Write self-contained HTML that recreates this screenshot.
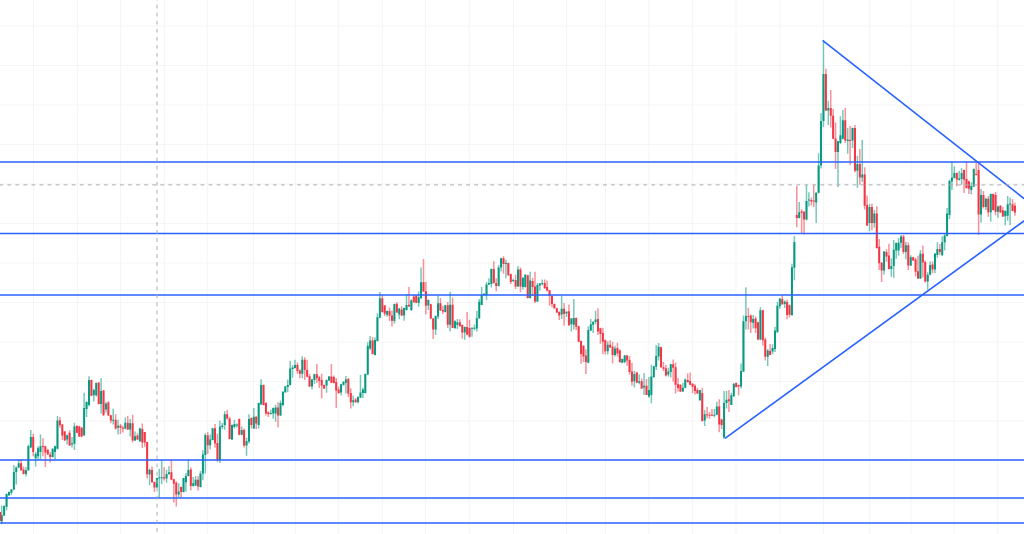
<!DOCTYPE html><html><head><meta charset="utf-8"><style>html,body{margin:0;padding:0;background:#fff;overflow:hidden}svg{display:block}</style></head><body>
<svg width="1024" height="534" viewBox="0 0 1024 534">
<rect width="1024" height="534" fill="#fff"/>
<path d="M33.5 0V534 M77.4 0V534 M120.5 0V534 M164.4 0V534 M207.3 0V534 M253.5 0V534 M295.4 0V534 M338.4 0V534 M382.4 0V534 M425.4 0V534 M469.3 0V534 M513.5 0V534 M566.6 0V534 M605.5 0V534 M648.8 0V534 M692.4 0V534 M736 0V534 M779.9 0V534 M823.6 0V534 M869.6 0V534 M911 0V534 M954.1 0V534 M997.6 0V534 M0 26.0H1024 M0 65.5H1024 M0 105.0H1024 M0 144.5H1024 M0 184.0H1024 M0 223.5H1024 M0 263.0H1024 M0 302.5H1024 M0 342.0H1024 M0 381.5H1024 M0 421.0H1024 M0 460.5H1024 M0 500.0H1024" stroke="#f5f5f5" stroke-width="1" fill="none"/>
<path d="M1.72 505.5V524.3M4.14 505.5V515.9M6.57 493.4V510.2M8.99 491.5V495.9M11.42 489.0V495.2M13.84 465.1V490.2M16.26 466.4V484.6M18.69 458.9V468.3M25.96 467.0V476.4M28.38 444.4V470.8M30.81 430.0V448.2M35.66 452.0V466.4M38.08 446.3V459.5M40.50 434.4V459.5M52.62 448.2V457.6M55.05 445.4V460.1M57.47 416.0V449.4M67.17 434.6V444.6M72.02 437.0V447.5M74.44 422.7V450.0M84.14 392.7V435.9M86.56 401.2V417.1M88.98 376.3V406.6M93.83 388.8V401.6M96.26 382.5V396.5M101.10 378.2V413.4M105.95 402.0V412.6M113.22 408.8V424.4M118.07 419.8V434.5M125.34 417.3V429.5M130.19 419.0V436.6M135.04 431.6V440.9M139.89 427.8V442.1M149.58 468.6V485.3M156.86 477.7V487.8M159.28 468.8V497.5M161.70 460.0V484.0M166.55 469.7V482.7M168.98 466.3V474.7M178.67 483.3V497.2M183.52 477.7V492.4M185.94 473.0V491.6M188.37 459.6V476.6M193.22 477.1V486.4M195.64 476.1V485.9M200.49 471.0V487.4M202.91 450.3V480.2M205.34 433.3V473.6M210.18 434.4V449.3M212.61 427.7V440.5M219.88 420.4V463.0M222.30 423.0V429.2M224.73 411.2V429.7M232.00 424.4V439.9M234.42 419.8V428.5M236.85 423.4V427.5M241.70 426.5V435.2M246.54 437.8V455.8M248.97 414.3V443.5M253.82 408.1V429.1M258.66 402.4V428.5M261.09 379.3V405.0M270.78 409.4V414.6M273.21 407.4V418.7M275.63 404.8V421.8M280.48 400.5V416.1M282.90 391.2V406.3M285.33 386.0V392.7M287.75 379.4V392.2M290.18 360.8V385.5M292.60 364.9V377.8M295.02 359.8V368.5M302.30 356.2V378.3M311.99 378.8V389.6M314.42 373.7V384.0M326.54 379.4V392.7M328.96 376.0V380.9M341.08 383.7V395.5M343.50 381.1V385.7M345.93 376.0V393.5M353.20 395.5V406.3M358.05 396.6V403.3M360.47 374.9V398.1M362.90 387.8V398.1M365.32 373.6V393.5M367.74 342.2V375.2M370.17 336.0V349.9M375.02 337.4V355.6M377.44 313.2V341.5M379.86 292.1V318.3M387.14 310.6V316.8M394.41 303.4V323.5M399.26 308.0V319.2M404.10 307.4V320.7M406.53 294.1V310.4M411.38 299.6V311.0M418.65 291.6V306.8M421.07 267.4V298.8M428.34 299.6V310.0M435.62 315.5V335.0M438.04 295.4V319.1M445.31 304.7V312.4M450.16 291.8V331.5M455.01 320.2V328.9M457.43 319.1V329.0M464.70 326.4V339.8M471.98 327.4V336.7M474.40 324.4V330.5M476.82 311.0V331.6M479.25 298.9V318.7M481.67 287.1V305.3M484.10 293.3V295.8M486.52 281.9V299.9M488.94 278.3V285.0M491.37 268.5V287.6M498.64 264.9V286.6M501.06 257.7V271.6M505.91 259.8V278.3M513.18 278.8V281.9M518.03 266.0V287.1M522.88 277.3V289.6M525.30 274.2V287.6M530.15 271.7V298.5M537.42 283.0V302.1M539.85 283.0V290.7M542.27 279.4V285.6M561.66 295.8V319.1M566.51 311.3V317.0M571.36 318.0V331.4M573.78 299.0V329.4M588.33 326.3V363.2M590.75 319.1V330.9M593.18 321.1V333.0M595.60 310.8V324.2M607.72 341.2V354.4M614.99 345.7V356.5M622.26 358.5V363.2M624.69 354.9V363.2M634.38 370.9V387.4M639.23 374.5V384.3M644.08 373.0V395.0M648.93 377.1V397.7M651.35 364.7V403.3M653.78 365.7V378.1M656.20 345.1V369.9M658.62 343.1V360.6M668.32 367.8V376.6M670.74 363.7V377.6M682.86 382.7V391.9M685.29 378.5V388.3M699.83 389.9V400.8M704.68 410.1V426.0M714.38 409.1V417.3M716.80 401.8V415.2M724.07 391.0V438.9M726.50 391.0V408.5M731.34 392.7V405.0M733.77 383.0V396.7M741.04 363.4V388.6M743.46 315.5V372.1M745.89 287.2V329.4M753.16 314.9V328.4M760.43 307.3V340.2M767.70 348.9V366.0M772.55 344.3V354.2M774.98 326.8V352.1M777.40 302.1V333.0M779.82 298.0V308.8M784.67 300.5V308.0M791.94 263.7V315.6M794.37 236.0V280.2M799.22 202.0V218.5M806.49 185.0V220.5M808.91 192.2V206.6M816.18 192.2V223.1M818.61 153.2V193.5M821.03 113.2V168.6M823.46 40.5V127.1M828.30 100.8V125.0M838.00 140.8V187.0M840.42 116.2V144.1M842.85 110.0V139.4M847.70 128.0V153.8M852.54 127.5V148.1M857.39 155.8V187.8M862.24 140.0V182.1M869.51 203.8V231.3M874.36 210.1V227.7M884.06 251.0V274.6M891.33 258.2V276.7M893.75 240.0V277.7M896.18 242.6V258.7M898.60 238.0V255.6M901.02 235.0V247.9M905.87 241.7V259.2M910.72 255.2V266.0M920.42 250.1V278.9M927.69 272.2V289.7M930.11 261.4V275.3M934.96 253.0V273.3M937.38 242.2V257.8M942.23 236.2V255.7M944.66 234.0V250.5M947.08 207.9V236.6M949.50 179.6V219.1M951.93 161.5V189.9M954.35 166.2V178.5M959.20 170.8V180.6M961.62 168.2V184.7M971.32 182.3V194.6M973.74 168.4V186.9M981.02 189.0V222.7M985.86 197.7V210.0M990.71 193.6V221.6M997.98 205.7V217.7M1005.26 210.2V225.2M1007.68 196.0V220.7M1010.10 197.5V225.2" stroke="#089981" stroke-width="1.5" stroke-opacity="0.55" fill="none"/>
<path d="M0.20 511.9V521.0M21.11 459.5V470.8M23.54 466.4V474.5M33.23 433.8V456.3M42.93 438.2V456.3M45.35 445.7V467.0M47.78 448.8V455.1M50.20 452.0V462.6M59.90 417.1V427.7M62.32 424.0V440.0M64.74 430.9V440.8M69.59 430.2V445.9M76.86 425.2V433.2M79.29 425.8V437.0M81.71 427.1V437.0M91.41 379.4V396.3M98.68 382.2V404.5M103.53 390.1V415.8M108.38 401.2V416.0M110.80 414.7V423.2M115.65 414.3V429.5M120.50 424.0V434.1M122.92 425.7V432.4M127.77 416.0V429.9M132.62 414.7V442.5M137.46 433.3V440.0M142.31 423.6V448.0M144.74 432.0V446.7M147.16 441.7V478.5M152.01 466.5V482.7M154.43 481.5V492.0M164.13 467.2V480.6M171.40 460.0V480.2M173.82 478.7V502.4M176.25 481.3V506.5M181.10 486.4V497.7M190.79 467.4V490.5M198.06 476.1V490.5M207.76 432.3V453.9M215.03 424.1V447.7M217.46 433.8V461.8M227.15 410.1V419.4M229.58 416.8V439.5M239.27 418.4V435.2M244.12 428.5V447.6M251.39 417.4V428.5M256.24 416.2V429.1M263.51 384.4V405.5M265.94 402.2V415.6M268.36 411.2V417.1M278.06 402.2V427.4M297.45 362.4V373.7M299.87 369.6V378.3M304.72 357.2V379.9M307.14 359.8V377.3M309.57 373.7V387.1M316.84 363.9V383.0M319.26 375.7V388.1M321.69 373.7V398.4M324.11 384.5V389.1M331.38 363.9V383.2M333.81 375.4V383.5M336.23 378.0V407.9M338.66 386.8V394.0M348.35 378.0V397.1M350.78 388.3V408.4M355.62 398.1V402.7M372.59 336.9V354.6M382.29 295.1V312.7M384.71 304.9V316.3M389.56 307.5V320.9M391.98 310.4V326.6M396.83 302.2V313.0M401.68 306.3V316.1M408.95 286.9V307.0M413.80 295.0V302.7M416.22 295.0V303.2M423.50 259.1V292.1M425.92 282.1V314.6M430.77 303.7V319.1M433.19 318.1V339.0M440.46 298.0V310.9M442.89 305.7V314.0M447.74 302.1V327.9M452.58 297.5V326.3M459.86 319.2V326.9M462.28 324.4V338.8M467.13 312.0V335.2M469.55 319.7V337.7M493.79 261.3V283.5M496.22 278.3V291.2M503.49 256.2V273.7M508.34 262.4V275.7M510.76 273.7V284.0M515.61 274.7V289.1M520.46 267.5V292.2M527.73 274.8V298.5M532.58 277.9V295.9M535.00 271.7V303.1M544.70 279.4V288.7M547.12 280.4V291.3M549.54 289.7V305.7M551.97 295.4V307.2M554.39 303.6V308.8M556.82 307.7V312.9M559.24 311.3V320.0M564.09 303.1V325.7M568.94 304.6V325.7M576.21 317.5V329.9M578.63 325.7V342.2M581.06 340.5V363.7M583.48 345.3V362.1M585.90 349.3V374.0M598.02 308.2V335.0M600.45 327.8V343.8M602.87 327.8V354.1M605.30 339.6V354.4M610.14 340.2V347.9M612.57 342.1V363.2M617.42 342.7V356.5M619.84 349.3V362.7M627.11 354.9V365.7M629.54 356.0V374.5M631.96 362.7V385.8M636.81 371.9V383.3M641.66 378.6V388.9M646.50 379.1V395.0M661.05 346.7V367.8M663.47 362.1V370.9M665.90 364.7V376.6M673.17 359.6V381.7M675.59 362.6V393.5M678.02 378.0V391.5M680.44 384.3V392.0M687.71 373.4V382.7M690.14 372.4V385.2M692.56 383.2V393.0M694.98 384.2V394.5M697.41 387.8V394.0M702.26 387.8V421.4M707.10 407.0V418.3M709.53 412.1V418.8M711.95 409.1V416.3M719.22 399.3V432.2M721.65 418.8V429.1M728.92 390.0V412.1M736.19 382.4V387.6M738.62 384.5V395.3M748.31 307.8V329.4M750.74 314.4V333.0M755.58 316.5V333.0M758.01 321.7V340.2M762.86 309.8V345.8M765.28 337.6V360.4M770.13 343.9V355.2M782.25 295.0V304.1M787.10 299.7V319.2M789.52 304.6V317.5M796.79 186.0V227.2M801.64 209.2V233.9M804.06 211.3V234.4M811.34 197.4V205.6M813.76 185.0V207.1M825.88 68.8V111.1M830.73 90.0V127.6M833.15 109.1V139.3M835.58 122.4V169.1M845.27 108.0V143.0M850.12 126.0V165.0M854.97 124.9V172.4M859.82 149.0V184.7M864.66 167.2V209.4M867.09 195.5V226.1M871.94 203.8V230.2M876.78 206.3V248.8M879.21 239.1V270.0M881.63 262.3V281.9M886.48 249.3V261.8M888.90 243.8V269.5M903.45 235.0V254.1M908.30 242.4V270.0M913.14 256.8V260.9M915.57 257.8V276.3M917.99 255.7V278.9M922.84 245.4V277.4M925.26 260.4V282.5M932.54 261.4V273.3M939.81 243.9V254.7M956.78 172.4V186.3M964.05 169.4V193.0M966.47 161.0V188.5M968.90 180.7V194.1M976.17 162.7V175.6M978.59 162.7V235.0M983.44 191.0V208.5M988.29 196.1V216.7M993.14 193.6V210.4M995.56 192.1V215.2M1000.41 205.0V212.8M1002.83 206.9V217.0M1012.53 199.0V211.3M1014.95 202.7V215.8" stroke="#f23645" stroke-width="1.5" stroke-opacity="0.55" fill="none"/>
<path d="M0.72 515.2h2.0V521.6h-2.0ZM3.14 506.1h2.0V515.6h-2.0ZM5.57 494.0h2.0V506.8h-2.0ZM7.99 492.1h2.0V495.2h-2.0ZM10.42 489.6h2.0V492.7h-2.0ZM12.84 472.0h2.0V489.6h-2.0ZM15.26 467.6h2.0V472.0h-2.0ZM17.69 463.2h2.0V467.6h-2.0ZM24.96 470.2h2.0V473.9h-2.0ZM27.38 446.3h2.0V470.2h-2.0ZM29.81 436.9h2.0V447.6h-2.0ZM34.66 453.8h2.0V458.2h-2.0ZM37.08 448.2h2.0V456.3h-2.0ZM39.50 446.3h2.0V452.0h-2.0ZM51.62 448.8h2.0V457.0h-2.0ZM54.05 446.3h2.0V452.0h-2.0ZM56.47 420.6h2.0V448.8h-2.0ZM66.17 435.2h2.0V439.5h-2.0ZM71.02 443.3h2.0V444.6h-2.0ZM73.44 426.5h2.0V443.8h-2.0ZM83.14 408.0h2.0V435.3h-2.0ZM85.56 402.0h2.0V408.9h-2.0ZM87.98 380.0h2.0V405.1h-2.0ZM92.83 390.1h2.0V395.3h-2.0ZM95.26 383.1h2.0V395.3h-2.0ZM100.10 391.1h2.0V403.9h-2.0ZM104.95 403.7h2.0V409.6h-2.0ZM112.22 419.7h2.0V420.7h-2.0ZM117.07 425.7h2.0V427.8h-2.0ZM124.34 422.7h2.0V428.6h-2.0ZM129.19 423.2h2.0V429.5h-2.0ZM134.04 436.2h2.0V440.4h-2.0ZM138.89 428.6h2.0V441.3h-2.0ZM148.58 469.7h2.0V474.5h-2.0ZM155.86 478.1h2.0V487.4h-2.0ZM158.28 477.6h2.0V478.6h-2.0ZM160.70 477.2h2.0V478.2h-2.0ZM165.55 473.9h2.0V478.5h-2.0ZM167.98 472.2h2.0V473.9h-2.0ZM177.67 491.6h2.0V494.6h-2.0ZM182.52 478.1h2.0V492.0h-2.0ZM184.94 476.1h2.0V482.3h-2.0ZM187.37 469.9h2.0V476.1h-2.0ZM192.22 483.3h2.0V485.9h-2.0ZM194.64 479.7h2.0V485.4h-2.0ZM199.49 473.5h2.0V486.9h-2.0ZM201.91 454.4h2.0V473.5h-2.0ZM204.34 434.9h2.0V454.9h-2.0ZM209.18 439.5h2.0V445.2h-2.0ZM211.61 428.2h2.0V440.0h-2.0ZM218.88 426.6h2.0V460.0h-2.0ZM221.30 425.6h2.0V427.1h-2.0ZM223.73 414.3h2.0V425.1h-2.0ZM231.00 424.9h2.0V439.4h-2.0ZM233.42 424.1h2.0V427.0h-2.0ZM235.85 424.4h2.0V425.4h-2.0ZM240.70 430.1h2.0V434.7h-2.0ZM245.54 440.9h2.0V445.5h-2.0ZM247.97 418.9h2.0V441.4h-2.0ZM252.82 416.7h2.0V428.5h-2.0ZM257.66 403.0h2.0V425.0h-2.0ZM260.09 384.9h2.0V404.5h-2.0ZM269.78 413.0h2.0V414.1h-2.0ZM272.21 407.9h2.0V413.5h-2.0ZM274.63 407.4h2.0V413.5h-2.0ZM279.48 403.0h2.0V415.6h-2.0ZM281.90 391.7h2.0V405.0h-2.0ZM284.33 386.6h2.0V392.2h-2.0ZM286.75 385.0h2.0V387.1h-2.0ZM289.18 368.5h2.0V385.0h-2.0ZM291.60 367.5h2.0V369.1h-2.0ZM294.02 364.9h2.0V368.0h-2.0ZM301.30 359.8h2.0V373.7h-2.0ZM310.99 379.4h2.0V386.6h-2.0ZM313.42 374.2h2.0V379.9h-2.0ZM325.54 379.9h2.0V385.5h-2.0ZM327.96 376.5h2.0V380.4h-2.0ZM340.08 384.2h2.0V392.4h-2.0ZM342.50 382.1h2.0V384.7h-2.0ZM344.93 379.6h2.0V382.7h-2.0ZM352.20 400.2h2.0V402.2h-2.0ZM357.05 397.1h2.0V402.2h-2.0ZM359.47 392.4h2.0V397.6h-2.0ZM361.90 389.4h2.0V393.0h-2.0ZM364.32 374.1h2.0V393.0h-2.0ZM366.74 345.8h2.0V374.6h-2.0ZM369.17 340.5h2.0V348.4h-2.0ZM374.02 339.9h2.0V355.1h-2.0ZM376.44 317.3h2.0V341.0h-2.0ZM378.86 298.2h2.0V317.8h-2.0ZM386.14 311.1h2.0V314.7h-2.0ZM393.41 303.9h2.0V320.9h-2.0ZM398.26 308.6h2.0V314.6h-2.0ZM403.10 307.9h2.0V315.6h-2.0ZM405.53 304.9h2.0V310.0h-2.0ZM410.38 300.3h2.0V310.0h-2.0ZM417.65 297.2h2.0V302.9h-2.0ZM420.07 282.3h2.0V298.3h-2.0ZM427.34 300.1h2.0V305.5h-2.0ZM434.62 316.0h2.0V329.4h-2.0ZM437.04 303.2h2.0V316.6h-2.0ZM444.31 305.2h2.0V311.9h-2.0ZM449.16 304.7h2.0V324.8h-2.0ZM454.01 321.3h2.0V328.0h-2.0ZM456.43 322.2h2.0V324.9h-2.0ZM463.70 326.9h2.0V332.6h-2.0ZM470.98 327.7h2.0V328.7h-2.0ZM473.40 327.7h2.0V328.7h-2.0ZM475.82 318.2h2.0V328.5h-2.0ZM478.25 301.7h2.0V318.2h-2.0ZM480.67 295.0h2.0V305.0h-2.0ZM483.10 293.8h2.0V295.3h-2.0ZM485.52 284.5h2.0V295.3h-2.0ZM487.94 283.0h2.0V284.5h-2.0ZM490.37 269.1h2.0V284.0h-2.0ZM497.64 267.5h2.0V286.0h-2.0ZM500.06 258.2h2.0V267.5h-2.0ZM504.91 262.9h2.0V263.9h-2.0ZM512.18 279.9h2.0V280.9h-2.0ZM517.03 269.6h2.0V286.6h-2.0ZM521.88 277.8h2.0V287.1h-2.0ZM524.30 274.7h2.0V287.1h-2.0ZM529.15 280.4h2.0V298.0h-2.0ZM536.42 285.1h2.0V301.6h-2.0ZM538.85 283.5h2.0V285.6h-2.0ZM541.27 283.0h2.0V284.1h-2.0ZM560.66 308.8h2.0V314.4h-2.0ZM565.51 311.8h2.0V313.4h-2.0ZM570.36 318.5h2.0V324.2h-2.0ZM572.78 318.0h2.0V324.7h-2.0ZM587.33 329.9h2.0V362.7h-2.0ZM589.75 324.2h2.0V330.4h-2.0ZM592.18 322.1h2.0V324.7h-2.0ZM594.60 319.6h2.0V322.1h-2.0ZM606.72 344.8h2.0V351.3h-2.0ZM613.99 348.4h2.0V355.0h-2.0ZM621.26 359.1h2.0V362.7h-2.0ZM623.69 355.4h2.0V362.1h-2.0ZM633.38 374.0h2.0V381.2h-2.0ZM638.23 381.2h2.0V382.7h-2.0ZM643.08 385.8h2.0V387.4h-2.0ZM647.93 389.9h2.0V396.6h-2.0ZM650.35 376.5h2.0V395.1h-2.0ZM652.78 366.3h2.0V377.1h-2.0ZM655.20 356.0h2.0V366.8h-2.0ZM657.62 346.7h2.0V356.5h-2.0ZM667.32 371.4h2.0V374.5h-2.0ZM669.74 364.2h2.0V371.9h-2.0ZM681.86 387.8h2.0V391.4h-2.0ZM684.29 379.6h2.0V387.8h-2.0ZM698.83 390.0h2.0V400.3h-2.0ZM703.68 414.2h2.0V420.4h-2.0ZM713.38 414.7h2.0V415.7h-2.0ZM715.80 406.5h2.0V414.7h-2.0ZM723.07 402.9h2.0V437.4h-2.0ZM725.50 399.8h2.0V402.9h-2.0ZM730.34 395.3h2.0V405.0h-2.0ZM732.77 384.0h2.0V396.2h-2.0ZM740.04 371.1h2.0V386.6h-2.0ZM742.46 321.2h2.0V371.6h-2.0ZM744.89 316.0h2.0V321.2h-2.0ZM752.16 319.1h2.0V322.7h-2.0ZM759.43 310.3h2.0V339.6h-2.0ZM766.70 350.5h2.0V356.8h-2.0ZM771.55 347.9h2.0V351.6h-2.0ZM773.98 330.5h2.0V349.1h-2.0ZM776.40 305.7h2.0V331.9h-2.0ZM778.82 298.8h2.0V306.2h-2.0ZM783.67 301.5h2.0V304.1h-2.0ZM790.94 267.3h2.0V315.3h-2.0ZM793.37 242.1h2.0V267.8h-2.0ZM798.22 212.3h2.0V218.0h-2.0ZM805.49 201.0h2.0V219.5h-2.0ZM807.91 199.4h2.0V200.4h-2.0ZM815.18 192.7h2.0V202.5h-2.0ZM817.61 165.5h2.0V192.7h-2.0ZM820.03 120.9h2.0V165.5h-2.0ZM822.46 74.0h2.0V120.9h-2.0ZM827.30 108.0h2.0V110.6h-2.0ZM837.00 141.3h2.0V152.1h-2.0ZM839.42 135.3h2.0V143.0h-2.0ZM841.85 120.3h2.0V138.8h-2.0ZM846.70 139.4h2.0V140.9h-2.0ZM851.54 128.0h2.0V140.4h-2.0ZM856.39 164.1h2.0V170.8h-2.0ZM861.24 174.4h2.0V177.5h-2.0ZM868.51 207.1h2.0V223.0h-2.0ZM873.36 213.6h2.0V223.0h-2.0ZM883.06 251.5h2.0V270.5h-2.0ZM890.33 265.9h2.0V269.0h-2.0ZM892.75 249.8h2.0V265.9h-2.0ZM895.18 243.1h2.0V250.4h-2.0ZM897.60 242.7h2.0V250.4h-2.0ZM900.02 236.5h2.0V242.7h-2.0ZM904.87 245.3h2.0V252.1h-2.0ZM909.72 257.3h2.0V265.5h-2.0ZM919.42 253.7h2.0V278.4h-2.0ZM926.69 274.8h2.0V281.5h-2.0ZM929.11 265.0h2.0V274.8h-2.0ZM933.96 253.6h2.0V269.6h-2.0ZM936.38 248.9h2.0V255.0h-2.0ZM941.23 242.2h2.0V255.2h-2.0ZM943.66 235.5h2.0V242.2h-2.0ZM946.08 213.6h2.0V236.0h-2.0ZM948.50 181.1h2.0V215.0h-2.0ZM950.93 177.5h2.0V181.6h-2.0ZM953.35 172.9h2.0V178.0h-2.0ZM958.20 178.5h2.0V180.1h-2.0ZM960.62 172.9h2.0V179.1h-2.0ZM970.32 185.9h2.0V189.9h-2.0ZM972.74 168.9h2.0V186.4h-2.0ZM980.02 195.0h2.0V214.5h-2.0ZM984.86 198.7h2.0V207.0h-2.0ZM989.71 194.1h2.0V212.2h-2.0ZM996.98 206.5h2.0V211.7h-2.0ZM1004.26 211.0h2.0V216.2h-2.0ZM1006.68 204.2h2.0V215.8h-2.0ZM1009.10 203.4h2.0V204.4h-2.0Z" fill="#089981"/>
<path d="M-0.80 511.9h2.0V521.0h-2.0ZM20.11 463.2h2.0V470.2h-2.0ZM22.54 469.5h2.0V473.9h-2.0ZM32.23 436.9h2.0V452.0h-2.0ZM41.93 446.1h2.0V447.1h-2.0ZM44.35 446.3h2.0V452.6h-2.0ZM46.78 450.1h2.0V454.5h-2.0ZM49.20 454.5h2.0V457.0h-2.0ZM58.90 420.2h2.0V425.2h-2.0ZM61.32 424.6h2.0V435.6h-2.0ZM63.74 431.5h2.0V440.4h-2.0ZM68.59 432.7h2.0V445.4h-2.0ZM75.86 426.1h2.0V432.8h-2.0ZM78.29 426.5h2.0V436.6h-2.0ZM80.71 427.7h2.0V436.5h-2.0ZM90.41 380.0h2.0V395.7h-2.0ZM97.68 382.6h2.0V404.1h-2.0ZM102.53 390.6h2.0V415.2h-2.0ZM107.38 402.5h2.0V415.6h-2.0ZM109.80 415.2h2.0V420.6h-2.0ZM114.65 419.8h2.0V428.6h-2.0ZM119.50 425.7h2.0V427.8h-2.0ZM121.92 427.7h2.0V428.7h-2.0ZM126.77 422.7h2.0V429.5h-2.0ZM131.62 423.2h2.0V440.4h-2.0ZM136.46 435.4h2.0V439.6h-2.0ZM141.31 429.1h2.0V442.5h-2.0ZM143.74 432.0h2.0V442.5h-2.0ZM146.16 442.1h2.0V474.3h-2.0ZM151.01 469.9h2.0V482.3h-2.0ZM153.43 481.9h2.0V487.4h-2.0ZM163.13 477.3h2.0V478.5h-2.0ZM170.40 472.2h2.0V479.8h-2.0ZM172.82 479.2h2.0V483.8h-2.0ZM175.25 482.8h2.0V494.6h-2.0ZM180.10 486.9h2.0V492.0h-2.0ZM189.79 469.4h2.0V485.9h-2.0ZM197.06 479.7h2.0V486.4h-2.0ZM206.76 435.4h2.0V445.2h-2.0ZM214.03 428.2h2.0V443.6h-2.0ZM216.46 443.1h2.0V460.0h-2.0ZM226.15 414.3h2.0V418.4h-2.0ZM228.58 418.4h2.0V439.0h-2.0ZM238.27 418.9h2.0V434.7h-2.0ZM243.12 430.1h2.0V445.5h-2.0ZM250.39 417.9h2.0V425.0h-2.0ZM255.24 416.7h2.0V423.4h-2.0ZM262.51 384.9h2.0V405.0h-2.0ZM264.94 403.0h2.0V413.5h-2.0ZM267.36 412.2h2.0V414.3h-2.0ZM277.06 407.4h2.0V415.6h-2.0ZM296.45 364.9h2.0V371.1h-2.0ZM298.87 370.6h2.0V373.7h-2.0ZM303.72 359.8h2.0V370.1h-2.0ZM306.14 370.1h2.0V376.8h-2.0ZM308.57 376.3h2.0V386.6h-2.0ZM315.84 374.2h2.0V378.3h-2.0ZM318.26 377.3h2.0V380.9h-2.0ZM320.69 379.9h2.0V385.5h-2.0ZM323.11 385.0h2.0V388.6h-2.0ZM330.38 376.5h2.0V382.7h-2.0ZM332.81 377.0h2.0V383.0h-2.0ZM335.23 382.1h2.0V390.4h-2.0ZM337.66 389.4h2.0V393.0h-2.0ZM347.35 379.1h2.0V393.5h-2.0ZM349.78 393.0h2.0V402.2h-2.0ZM354.62 399.6h2.0V402.2h-2.0ZM371.59 340.5h2.0V354.1h-2.0ZM381.29 298.2h2.0V312.1h-2.0ZM383.71 305.4h2.0V313.7h-2.0ZM388.56 311.1h2.0V315.7h-2.0ZM390.98 315.6h2.0V320.7h-2.0ZM395.83 303.8h2.0V312.5h-2.0ZM400.68 309.4h2.0V315.6h-2.0ZM407.95 304.8h2.0V306.5h-2.0ZM412.80 296.7h2.0V302.2h-2.0ZM415.22 295.7h2.0V302.7h-2.0ZM422.50 282.3h2.0V291.6h-2.0ZM424.92 291.3h2.0V305.7h-2.0ZM429.77 304.2h2.0V318.6h-2.0ZM432.19 318.6h2.0V329.4h-2.0ZM439.46 303.2h2.0V310.4h-2.0ZM441.89 309.9h2.0V311.4h-2.0ZM446.74 305.2h2.0V324.8h-2.0ZM451.58 304.7h2.0V328.0h-2.0ZM458.86 322.2h2.0V325.9h-2.0ZM461.28 324.9h2.0V332.6h-2.0ZM466.13 326.9h2.0V334.6h-2.0ZM468.55 328.0h2.0V336.7h-2.0ZM492.79 269.1h2.0V283.0h-2.0ZM495.22 283.0h2.0V286.0h-2.0ZM502.49 258.2h2.0V263.9h-2.0ZM507.34 262.9h2.0V275.2h-2.0ZM509.76 274.2h2.0V281.9h-2.0ZM514.61 279.9h2.0V286.6h-2.0ZM519.46 269.6h2.0V286.6h-2.0ZM526.73 275.3h2.0V298.0h-2.0ZM531.58 281.0h2.0V287.1h-2.0ZM534.00 286.6h2.0V301.6h-2.0ZM543.70 283.0h2.0V288.2h-2.0ZM546.12 287.1h2.0V290.7h-2.0ZM548.54 290.2h2.0V295.9h-2.0ZM550.97 295.9h2.0V304.1h-2.0ZM553.39 304.1h2.0V308.3h-2.0ZM555.82 308.3h2.0V312.4h-2.0ZM558.24 311.9h2.0V315.5h-2.0ZM563.09 308.8h2.0V313.9h-2.0ZM567.94 311.3h2.0V325.2h-2.0ZM575.21 318.0h2.0V326.8h-2.0ZM577.63 326.3h2.0V341.7h-2.0ZM580.06 341.0h2.0V354.1h-2.0ZM582.48 345.8h2.0V356.5h-2.0ZM584.90 355.4h2.0V362.1h-2.0ZM597.02 319.1h2.0V331.4h-2.0ZM599.45 328.3h2.0V334.0h-2.0ZM601.87 333.0h2.0V341.7h-2.0ZM604.30 340.2h2.0V351.3h-2.0ZM609.14 344.8h2.0V347.4h-2.0ZM611.57 346.7h2.0V355.0h-2.0ZM616.42 347.9h2.0V353.6h-2.0ZM618.84 350.5h2.0V362.1h-2.0ZM626.11 355.4h2.0V360.6h-2.0ZM628.54 360.1h2.0V371.9h-2.0ZM630.96 371.4h2.0V381.7h-2.0ZM635.81 372.4h2.0V382.7h-2.0ZM640.66 381.2h2.0V388.4h-2.0ZM645.50 385.8h2.0V395.0h-2.0ZM660.05 347.2h2.0V367.3h-2.0ZM662.47 367.3h2.0V368.8h-2.0ZM664.90 368.3h2.0V375.5h-2.0ZM672.17 364.2h2.0V367.8h-2.0ZM674.59 367.2h2.0V384.8h-2.0ZM677.02 384.2h2.0V387.9h-2.0ZM679.44 384.8h2.0V391.5h-2.0ZM686.71 380.1h2.0V382.1h-2.0ZM689.14 381.1h2.0V384.7h-2.0ZM691.56 383.7h2.0V386.8h-2.0ZM693.98 385.7h2.0V390.9h-2.0ZM696.41 389.9h2.0V393.5h-2.0ZM701.26 393.0h2.0V420.9h-2.0ZM706.10 414.2h2.0V415.2h-2.0ZM708.53 414.7h2.0V415.7h-2.0ZM710.95 414.7h2.0V415.7h-2.0ZM718.22 406.5h2.0V424.5h-2.0ZM720.65 419.4h2.0V425.0h-2.0ZM727.92 399.3h2.0V401.3h-2.0ZM735.19 383.0h2.0V387.1h-2.0ZM737.62 385.0h2.0V386.6h-2.0ZM747.31 316.0h2.0V317.1h-2.0ZM749.74 315.4h2.0V322.2h-2.0ZM754.58 318.5h2.0V328.3h-2.0ZM757.01 322.2h2.0V339.6h-2.0ZM761.86 310.3h2.0V340.2h-2.0ZM764.28 339.6h2.0V356.8h-2.0ZM769.13 351.1h2.0V355.0h-2.0ZM781.25 299.0h2.0V304.5h-2.0ZM786.10 302.0h2.0V314.9h-2.0ZM788.52 305.2h2.0V314.7h-2.0ZM795.79 214.9h2.0V218.0h-2.0ZM800.64 211.3h2.0V212.8h-2.0ZM803.06 211.8h2.0V219.5h-2.0ZM810.34 199.9h2.0V201.5h-2.0ZM812.76 200.4h2.0V201.5h-2.0ZM824.88 74.0h2.0V110.6h-2.0ZM829.73 108.0h2.0V115.7h-2.0ZM832.15 115.7h2.0V138.8h-2.0ZM834.58 138.4h2.0V152.1h-2.0ZM844.27 120.3h2.0V140.5h-2.0ZM849.12 139.9h2.0V140.9h-2.0ZM853.97 128.0h2.0V170.8h-2.0ZM858.82 164.1h2.0V177.5h-2.0ZM863.66 174.4h2.0V205.8h-2.0ZM866.09 205.0h2.0V225.6h-2.0ZM870.94 207.1h2.0V223.0h-2.0ZM875.78 213.6h2.0V247.9h-2.0ZM878.21 246.8h2.0V263.3h-2.0ZM880.63 262.8h2.0V270.5h-2.0ZM885.48 252.0h2.0V256.5h-2.0ZM887.90 255.5h2.0V269.0h-2.0ZM902.45 236.5h2.0V252.0h-2.0ZM907.30 245.3h2.0V265.5h-2.0ZM912.14 257.3h2.0V260.4h-2.0ZM914.57 259.4h2.0V271.7h-2.0ZM916.99 271.2h2.0V278.4h-2.0ZM921.84 253.7h2.0V262.4h-2.0ZM924.26 261.9h2.0V281.5h-2.0ZM931.54 264.5h2.0V269.6h-2.0ZM938.81 248.9h2.0V252.1h-2.0ZM955.78 172.9h2.0V179.6h-2.0ZM963.05 169.9h2.0V179.7h-2.0ZM965.47 179.1h2.0V188.0h-2.0ZM967.90 181.3h2.0V188.8h-2.0ZM975.17 174.0h2.0V175.0h-2.0ZM977.59 169.9h2.0V214.5h-2.0ZM982.44 195.0h2.0V207.0h-2.0ZM987.29 198.7h2.0V212.2h-2.0ZM992.14 194.1h2.0V210.0h-2.0ZM994.56 195.0h2.0V211.7h-2.0ZM999.41 205.7h2.0V212.5h-2.0ZM1001.83 210.2h2.0V216.6h-2.0ZM1011.53 204.2h2.0V211.0h-2.0ZM1013.95 205.7h2.0V212.5h-2.0Z" fill="#f23645"/>
<path d="M0 162H1024 M0 233.5H1024 M0 295H1024 M0 460H1024 M0 498H1024 M0 523H1024" stroke="#2962ff" stroke-width="1.62" fill="none"/>
<path d="M823.2 40.8L1024 198.5M725.7 437.9L1024 221" stroke="#2962ff" stroke-width="1.62" fill="none" stroke-linecap="round"/>
<path d="M157 0V534" stroke="#a9acb4" stroke-width="1" stroke-dasharray="3.8 4.25" stroke-dashoffset="3.36" fill="none"/>
<path d="M0 184.9H1024" stroke="#a9acb4" stroke-width="1" stroke-dasharray="3.8 4.25" stroke-dashoffset="0.7" fill="none"/>
</svg></body></html>
